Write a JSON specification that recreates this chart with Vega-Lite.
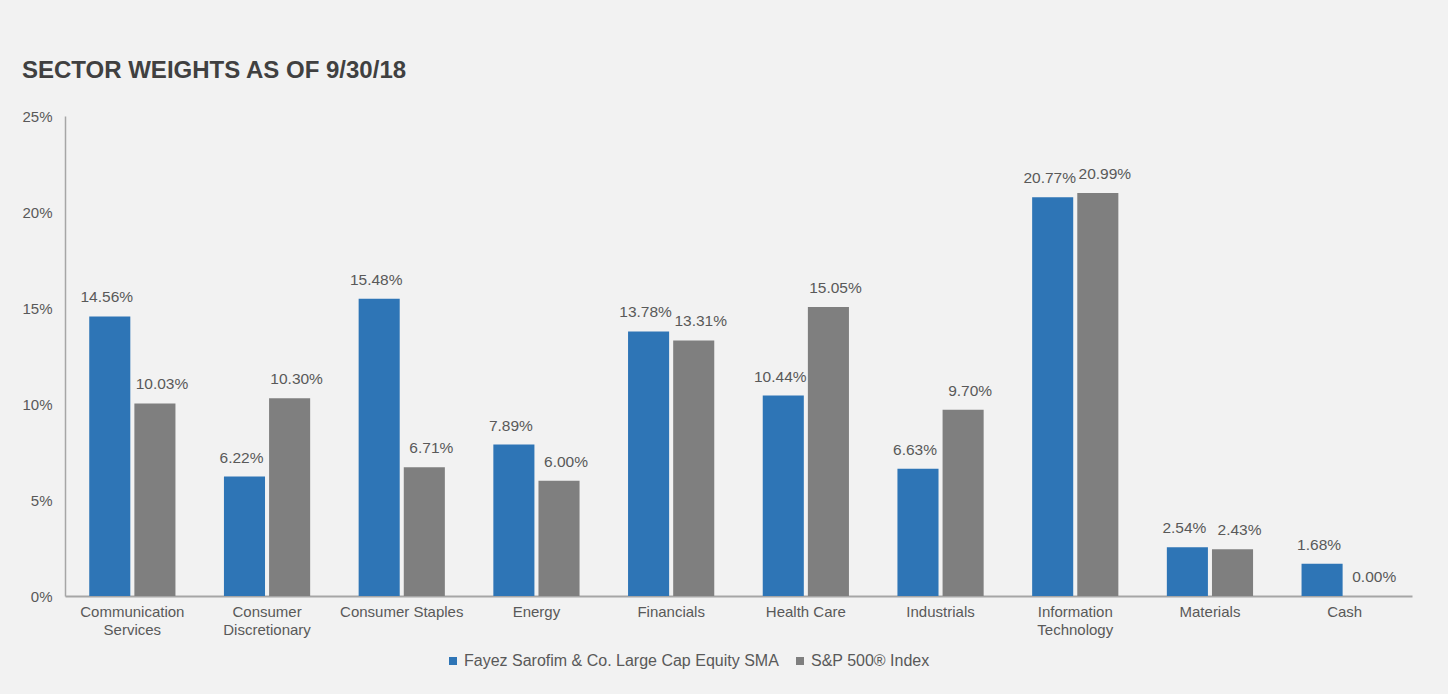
{
  "$schema": "https://vega.github.io/schema/vega-lite/v6.json",
  "width": 1347,
  "height": 480,
  "autosize": {"type": "none"},
  "padding": {"left": 65, "top": 116, "right": 36, "bottom": 98},
  "background": "#f2f2f2",
  "config": {
    "font": "Liberation Sans",
    "view": {"stroke": null}
  },
  "title": {
    "text": "SECTOR WEIGHTS AS OF 9/30/18",
    "anchor": "start",
    "frame": "bounds",
    "fontSize": 24,
    "fontWeight": "bold",
    "color": "#404040",
    "offset": 26
  },
  "data": {
    "values": [
      {"sector": "Communication Services", "series": "Fayez Sarofim & Co. Large Cap Equity SMA", "value": 0.1456},
      {"sector": "Communication Services", "series": "S&P 500® Index", "value": 0.1003},
      {"sector": "Consumer Discretionary", "series": "Fayez Sarofim & Co. Large Cap Equity SMA", "value": 0.0622},
      {"sector": "Consumer Discretionary", "series": "S&P 500® Index", "value": 0.1030},
      {"sector": "Consumer Staples", "series": "Fayez Sarofim & Co. Large Cap Equity SMA", "value": 0.1548},
      {"sector": "Consumer Staples", "series": "S&P 500® Index", "value": 0.0671},
      {"sector": "Energy", "series": "Fayez Sarofim & Co. Large Cap Equity SMA", "value": 0.0789},
      {"sector": "Energy", "series": "S&P 500® Index", "value": 0.0600},
      {"sector": "Financials", "series": "Fayez Sarofim & Co. Large Cap Equity SMA", "value": 0.1378},
      {"sector": "Financials", "series": "S&P 500® Index", "value": 0.1331},
      {"sector": "Health Care", "series": "Fayez Sarofim & Co. Large Cap Equity SMA", "value": 0.1044},
      {"sector": "Health Care", "series": "S&P 500® Index", "value": 0.1505},
      {"sector": "Industrials", "series": "Fayez Sarofim & Co. Large Cap Equity SMA", "value": 0.0663},
      {"sector": "Industrials", "series": "S&P 500® Index", "value": 0.0970},
      {"sector": "Information Technology", "series": "Fayez Sarofim & Co. Large Cap Equity SMA", "value": 0.2077},
      {"sector": "Information Technology", "series": "S&P 500® Index", "value": 0.2099},
      {"sector": "Materials", "series": "Fayez Sarofim & Co. Large Cap Equity SMA", "value": 0.0254},
      {"sector": "Materials", "series": "S&P 500® Index", "value": 0.0243},
      {"sector": "Cash", "series": "Fayez Sarofim & Co. Large Cap Equity SMA", "value": 0.0168},
      {"sector": "Cash", "series": "S&P 500® Index", "value": 0.0000}
    ]
  },
  "encoding": {
    "x": {
      "field": "sector",
      "type": "nominal",
      "sort": null,
      "scale": {"paddingInner": 0.36, "paddingOuter": 0.18},
      "axis": {
        "title": null,
        "labelAngle": 0,
        "ticks": false,
        "domainColor": "#a6a6a6",
        "domainWidth": 2,
        "labelPadding": 8,
        "labelFontSize": 15,
        "labelColor": "#595959",
        "labelLineHeight": 18,
        "labelLimit": 200,
        "labelExpr": "datum.label == 'Communication Services' ? ['Communication','Services'] : datum.label == 'Consumer Discretionary' ? ['Consumer','Discretionary'] : datum.label == 'Information Technology' ? ['Information','Technology'] : datum.label"
      }
    },
    "xOffset": {
      "field": "series",
      "type": "nominal",
      "sort": ["Fayez Sarofim & Co. Large Cap Equity SMA", "S&P 500® Index"],
      "scale": {"paddingInner": 0.09, "paddingOuter": 0}
    },
    "y": {
      "field": "value",
      "type": "quantitative",
      "scale": {"domain": [0, 0.25], "nice": false},
      "axis": {
        "title": null,
        "values": [0, 0.05, 0.1, 0.15, 0.2, 0.25],
        "format": ".0%",
        "grid": false,
        "ticks": false,
        "domainColor": "#a6a6a6",
        "domainWidth": 1.5,
        "labelPadding": 13,
        "labelFontSize": 15,
        "labelColor": "#595959"
      }
    }
  },
  "layer": [
    {
      "mark": {"type": "bar"},
      "encoding": {
        "color": {
          "field": "series",
          "type": "nominal",
          "sort": ["Fayez Sarofim & Co. Large Cap Equity SMA", "S&P 500® Index"],
          "scale": {
            "domain": ["Fayez Sarofim & Co. Large Cap Equity SMA", "S&P 500® Index"],
            "range": ["#2e75b6", "#7f7f7f"]
          },
          "legend": {
            "title": null,
            "orient": "none",
            "legendX": 380,
            "legendY": 537,
            "direction": "horizontal",
            "symbolType": "square",
            "symbolSize": 64,
            "symbolStrokeWidth": 0,
            "labelFontSize": 16,
            "labelColor": "#595959",
            "labelOffset": 3,
            "columnPadding": 13,
            "labelLimit": 500
          }
        }
      }
    },
    {
      "transform": [{"filter": "datum.series == 'Fayez Sarofim & Co. Large Cap Equity SMA'"}],
      "mark": {"type": "text", "dy": -14, "dx": -3, "baseline": "alphabetic", "fontSize": 15.5, "color": "#595959"},
      "encoding": {
        "text": {"field": "value", "type": "quantitative", "format": ".2%"}
      }
    },
    {
      "transform": [{"filter": "datum.series == 'S&P 500® Index'"}],
      "mark": {"type": "text", "dy": -14, "dx": 7, "baseline": "alphabetic", "fontSize": 15.5, "color": "#595959"},
      "encoding": {
        "text": {"field": "value", "type": "quantitative", "format": ".2%"}
      }
    }
  ]
}
